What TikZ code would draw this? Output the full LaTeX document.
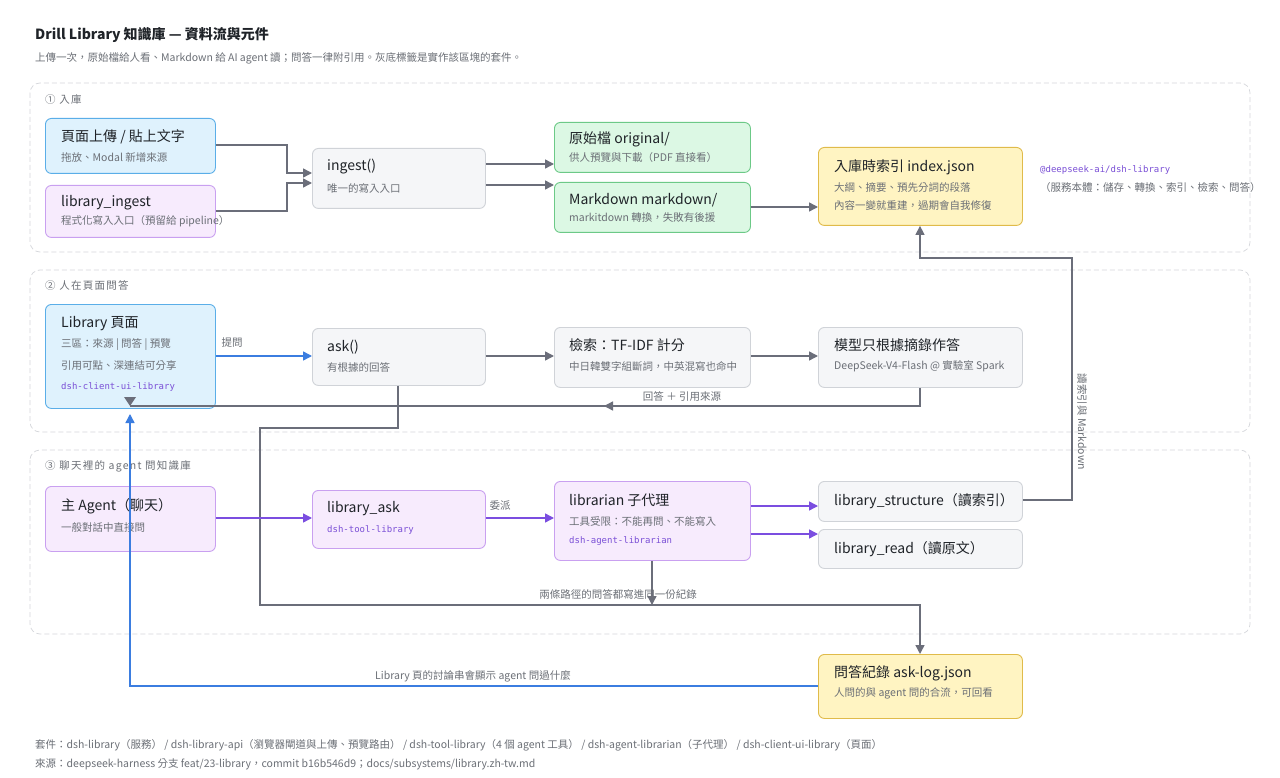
\documentclass[tikz,border=0pt]{standalone}
\usepackage{fontspec}
\setmainfont{Noto Sans CJK TC}
\newfontfamily\mono{DejaVu Sans Mono}
\usetikzlibrary{arrows.meta}
\definecolor{txt}{HTML}{1F2328}
\definecolor{sub}{HTML}{6B6F76}
\definecolor{lc}{HTML}{6B6E7A}
\definecolor{bl}{HTML}{3B7DE0}
\definecolor{pu}{HTML}{7B4EE0}
\definecolor{code}{HTML}{7A4FD6}
\definecolor{grpc}{HTML}{D5D7DB}
\definecolor{fb}{HTML}{DFF2FD}\definecolor{db}{HTML}{5AAEE8}
\definecolor{fp}{HTML}{F7EBFD}\definecolor{dp}{HTML}{C9A0F0}
\definecolor{fg}{HTML}{F5F6F8}\definecolor{dg}{HTML}{D0D3D8}
\definecolor{fgr}{HTML}{DCF8E4}\definecolor{dgr}{HTML}{6CC987}
\definecolor{fy}{HTML}{FFF4C2}\definecolor{dy}{HTML}{E0BB4A}
\tikzset{
 box/.style={draw, rounded corners=6pt, line width=0.9pt, anchor=north west, inner sep=0pt},
 grp/.style={draw=grpc, dash pattern=on 5pt off 3pt, rounded corners=10pt, line width=0.7pt},
 ttl/.style={anchor=west, text=txt, font=\fontsize{14}{16}\selectfont, inner sep=0pt},
 st/.style={anchor=west, text=sub, font=\fontsize{10.5}{12}\selectfont, inner sep=0pt},
 gl/.style={st, font=\fontsize{10.5}{12}\selectfont\addfontfeature{LetterSpace=12}},
 cd/.style={anchor=west, text=code, font=\mono\fontsize{9}{11}\selectfont, inner sep=0pt},
 arr/.style={draw=lc, line width=1.4pt, -{Triangle[length=9pt,width=9pt]}},
 ln/.style={draw=lc, line width=1.4pt},
 barr/.style={draw=bl, line width=1.4pt, -{Triangle[length=9pt,width=9pt]}},
 parr/.style={draw=pu, line width=1.4pt, -{Triangle[length=9pt,width=9pt]}},
 lab/.style={text=sub, font=\fontsize{10.5}{12}\selectfont, inner sep=1pt},
 B/.style={box, fill=fb, draw=db}, P/.style={box, fill=fp, draw=dp},
 G/.style={box, fill=fg, draw=dg}, N/.style={box, fill=fgr, draw=dgr},
 Y/.style={box, fill=fy, draw=dy},
}
\newcommand{\bx}[6]{% name style x1 y1 x2 y2
 \node[#2, minimum width=#5pt-#3pt, minimum height=#6pt-#4pt] (#1) at (#3,#4) {};}
\begin{document}
\begin{tikzpicture}[x=1pt,y=-1pt]
\useasboundingbox (0,0) rectangle (1280,778);
\fill[white] (0,0) rectangle (1280,778);
\node[anchor=west,inner sep=0pt,text=txt,font=\bfseries\fontsize{14}{16}\selectfont] (title) at (35,35) {Drill Library 知識庫 — 資料流與元件};
\node[st] (subt) at (35,58) {上傳一次，原始檔給人看、Markdown 給 AI agent 讀；問答一律附引用。灰底標籤是實作該區塊的套件。};
% groups
\draw[grp] (30,83) rectangle (1250,252);
\draw[grp] (30,270) rectangle (1250,432);
\draw[grp] (30,450) rectangle (1250,634);
\node[gl] (g1) at (45,100) {① 入庫};
\node[gl] (g2) at (45,286) {② 人在頁面問答};
\node[gl] (g3) at (45,466) {③ 聊天裡的 agent 問知識庫};
% boxes
\bx{up}{B}{45}{118}{215}{173}
\node[ttl] at (61,137) {頁面上傳 / 貼上文字}; \node[st] at (61,157) {拖放、Modal 新增來源};
\bx{li}{P}{45}{185}{215}{237}
\node[ttl] at (61,203) {library\_ingest}; \node[st] at (61,221) {程式化寫入入口（預留給 pipeline）};
\bx{ing}{G}{312}{148}{485}{208}
\node[ttl] at (327,167) {ingest()}; \node[st] at (327,188) {唯一的寫入入口};
\bx{orig}{N}{554}{122}{750}{172}
\node[ttl] at (569,139) {原始檔 original/}; \node[st] at (569,158) {供人預覽與下載（PDF 直接看）};
\bx{md}{N}{554}{182}{750}{232}
\node[ttl] at (569,200) {Markdown markdown/}; \node[st] at (569,218) {markitdown 轉換，失敗有後援};
\bx{idx}{Y}{818}{147}{1022}{225}
\node[ttl] at (834,167) {入庫時索引 index.json}; \node[st] at (834,187) {大綱、摘要、預先分詞的段落}; \node[st] at (834,206) {內容一變就重建，過期會自我修復};
\node[cd] at (1040,170) {@deepseek-ai/dsh-library};
\node[st] at (1040,188) {（服務本體：儲存、轉換、索引、檢索、問答）};
\bx{lp}{B}{45}{304}{215}{408}
\node[ttl] at (61,324) {Library 頁面}; \node[st] at (61,345) {三區：來源 | 問答 | 預覽}; \node[st] at (61,365) {引用可點、深連結可分享}; \node[cd] at (61,387) {dsh-client-ui-library};
\bx{ask}{G}{312}{328}{485}{385}
\node[ttl] at (327,347) {ask()}; \node[st] at (327,368) {有根據的回答};
\bx{srch}{G}{554}{327}{750}{387}
\node[ttl] at (569,345) {檢索：TF-IDF 計分}; \node[st] at (569,366) {中日韓雙字組斷詞，中英混寫也命中};
\bx{mdl}{G}{818}{327}{1022}{387}
\node[ttl] at (834,345) {模型只根據摘錄作答}; \node[st] at (834,366) {DeepSeek-V4-Flash @ 實驗室 Spark};
\bx{ma}{P}{45}{486}{215}{551}
\node[ttl] at (61,506) {主 Agent（聊天）}; \node[st] at (61,527) {一般對話中直接問};
\bx{la}{P}{312}{490}{485}{548}
\node[ttl] at (327,509) {library\_ask}; \node[cd] at (327,530) {dsh-tool-library};
\bx{lib}{P}{554}{481}{750}{560}
\node[ttl] at (569,500) {librarian 子代理}; \node[st] at (569,521) {工具受限：不能再問、不能寫入}; \node[cd] at (569,541) {dsh-agent-librarian};
\bx{ls}{G}{818}{481}{1022}{521}
\node[ttl] at (834,501) {library\_structure（讀索引）};
\bx{lr}{G}{818}{529}{1022}{568}
\node[ttl] at (834,549) {library\_read（讀原文）};
\bx{log}{Y}{818}{654}{1022}{718}
\node[ttl] at (834,673) {問答紀錄 ask-log.json}; \node[st] at (834,693) {人問的與 agent 問的合流，可回看};
% edges
\draw[arr] (up.east |- 0,145) -- (287,145) |- (ing.west |- 0,173);
\draw[arr] (li.east |- 0,211) -- (287,211) |- (ing.west |- 0,183);
\draw[arr] (ing.east |- 0,164) -- (orig.west |- 0,164);
\draw[arr] (ing.east |- 0,185) -- (md.west |- 0,185);
\draw[arr] (md.east |- 0,207) -- (idx.west |- 0,207);
\coordinate (c1) at (1072,258);
\draw[arr] (ls.east |- 0,500) -| (c1) -| (idx.south -| 920,0);
\node[lab, rotate=-90] at (1082,422) {讀索引與 Markdown};
\draw[barr] (lp.east |- 0,356) -- (ask.west |- 0,356);
\node[lab] at (232,343) {提問};
\draw[arr] (ask.east |- 0,356) -- (srch.west |- 0,356);
\draw[arr] (srch.east |- 0,356) -- (mdl.west |- 0,356);
\coordinate (c2) at (130,406);
\coordinate (c5) at (130,414);
\coordinate (c4) at (130,686);
\draw[barr] (log.west |- 0,686) -- (c4) -- (c5);
\draw[ln] (mdl.south -| 920,0) |- (c2);
\draw[arr] (616,406) -- (604,406);
\fill[fill=lc] (124,397) -- (136,397) -- (130,406) -- cycle;
\node[lab] at (682,397) {回答 ＋ 引用來源};
\coordinate (c3) at (260,428);
\draw[arr] (ask.south -| 398,0) |- (c3) |- (920,605) -- (log.north -| 920,0);
\draw[arr] (lib.south -| 652,0) -- (652,605);
\node[lab] at (618,594) {兩條路徑的問答都寫進同一份紀錄};
\draw[parr] (ma.east |- 0,518) -- (la.west |- 0,518);
\draw[parr] (la.east |- 0,518) -- (lib.west |- 0,518);
\node[lab] at (500,506) {委派};
\draw[parr] (lib.east |- 0,506) -- (ls.west |- 0,506);
\draw[parr] (lib.east |- 0,534) -- (lr.west |- 0,534);
\node[lab] at (473,676) {Library 頁的討論串會顯示 agent 問過什麼};
% footer
\node[st] (f1) at (35,745) {套件：dsh-library（服務） / dsh-library-api（瀏覽器閘道與上傳、預覽路由） / dsh-tool-library（4 個 agent 工具） / dsh-agent-librarian（子代理） / dsh-client-ui-library（頁面）};
\node[st] (f2) at (35,764) {來源：deepseek-harness 分支 feat/23-library，commit b16b546d9；docs/subsystems/library.zh-tw.md};
\end{tikzpicture}
\end{document}
